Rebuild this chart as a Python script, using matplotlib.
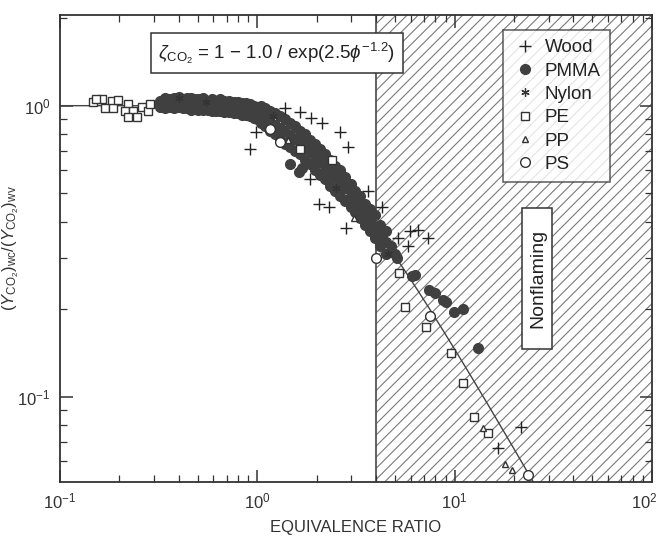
import numpy as np
import matplotlib
matplotlib.use('Agg')
import matplotlib.pyplot as plt
import matplotlib.transforms as mtransforms
from matplotlib.patches import Rectangle

plt.rcParams['font.family'] = ['Liberation Sans', 'DejaVu Sans']
plt.rcParams['mathtext.fontset'] = 'custom'
plt.rcParams['mathtext.rm'] = 'Liberation Sans'
plt.rcParams['mathtext.it'] = 'Liberation Sans:italic'
plt.rcParams['mathtext.bf'] = 'Liberation Sans:bold'
plt.rcParams['hatch.linewidth'] = 0.8
plt.rcParams['hatch.color'] = '#7a7a7a'

# measured points: equivalence ratio vs normalized CO2 yield
wood_phi = [0.92, 0.98, 1.39, 1.65, 1.88, 2.13, 2.64, 2.90, 1.86, 2.05, 2.30,
            2.82, 3.66, 4.30, 5.14, 5.98, 6.50, 7.30, 5.80, 16.7, 21.6]
wood_zeta = [0.71, 0.81, 0.98, 0.95, 0.91, 0.87, 0.81, 0.72, 0.56, 0.46, 0.45,
             0.38, 0.51, 0.45, 0.35, 0.37, 0.375, 0.35, 0.33, 0.067, 0.079]

# flat part of the PMMA band (three rows)
pmma_flat_phi = [0.32, 0.34, 0.36, 0.38, 0.40, 0.42, 0.44, 0.46, 0.48, 0.50, 0.53,
                 0.56, 0.59, 0.62, 0.65, 0.68, 0.72, 0.76, 0.80, 0.84, 0.88, 0.92,
                 0.96, 1.00]
pmma_flat_hi = [1.04, 1.06, 1.05, 1.06, 1.07, 1.05, 1.06, 1.06, 1.05, 1.05, 1.06,
                1.04, 1.05, 1.04, 1.05, 1.04, 1.04, 1.03, 1.03, 1.02, 1.02, 1.01,
                1.00, 0.99]
pmma_flat_mid = [1.01, 1.02, 1.01, 1.03, 1.02, 1.01, 1.02, 1.01, 1.01, 1.02, 1.00,
                 1.01, 1.00, 1.00, 0.99, 0.99, 0.99, 0.98, 0.98, 0.97, 0.96, 0.96,
                 0.95, 0.94]
pmma_flat_lo = [0.99, 0.98, 0.99, 0.98, 0.99, 0.98, 0.98, 0.97, 0.98, 0.97, 0.97,
                0.97, 0.96, 0.96, 0.96, 0.95, 0.95, 0.94, 0.94, 0.93, 0.93, 0.92,
                0.91, 0.90]

# falling part of the PMMA band (upper / middle / lower edge)
pmma_fall_phi = [1.04, 1.10, 1.16, 1.23, 1.31, 1.39, 1.47, 1.56, 1.65, 1.75, 1.86,
                 1.97, 2.09, 2.21, 2.35, 2.49, 2.64, 2.80, 2.97, 3.14, 3.33, 3.53,
                 3.75, 3.97, 4.21, 4.47]
pmma_fall_hi = [1.00, 0.98, 0.96, 0.94, 0.92, 0.90, 0.87, 0.85, 0.82, 0.80, 0.76,
                0.74, 0.71, 0.68, 0.65, 0.62, 0.60, 0.57, 0.54, 0.51, 0.49, 0.46,
                0.44, 0.42, 0.39, 0.37]
pmma_fall_mid = [0.93, 0.90, 0.88, 0.86, 0.84, 0.82, 0.79, 0.77, 0.75, 0.72, 0.70,
                 0.67, 0.64, 0.62, 0.59, 0.57, 0.54, 0.52, 0.49, 0.47, 0.45, 0.42,
                 0.40, 0.38, 0.36, 0.34]
pmma_fall_lo = [0.87, 0.85, 0.82, 0.80, 0.77, 0.74, 0.72, 0.70, 0.68, 0.65, 0.63,
                0.60, 0.58, 0.56, 0.53, 0.51, 0.49, 0.47, 0.45, 0.43, 0.41, 0.39,
                0.37, 0.35, 0.33, 0.31]

# scattered PMMA points off the band and in the nonflaming tail
pmma_extra_phi = [1.47, 1.62, 1.68, 4.75, 5.0, 5.1, 6.1, 6.3, 7.4, 8.0, 8.7, 9.0,
                  9.9, 11.0, 13.2]
pmma_extra_zeta = [0.63, 0.59, 0.61, 0.33, 0.31, 0.30, 0.26, 0.263, 0.233, 0.228,
                   0.215, 0.212, 0.195, 0.20, 0.147]

pmma_phi = (pmma_flat_phi * 3 + pmma_fall_phi * 3 + pmma_extra_phi)
pmma_zeta = (pmma_flat_hi + pmma_flat_mid + pmma_flat_lo
             + pmma_fall_hi + pmma_fall_mid + pmma_fall_lo + pmma_extra_zeta)

nylon_phi = [0.40, 0.55, 1.20, 2.50, 4.60]
nylon_zeta = [1.06, 1.03, 0.92, 0.52, 0.31]

pe_phi = [0.147, 0.163, 0.183, 0.169, 0.185, 0.221, 0.214, 0.234, 0.221, 0.245,
          0.260, 0.279, 0.286, 0.152, 0.197, 1.65, 2.40, 5.2, 5.64, 7.13, 9.55,
          11.0, 12.6, 14.7]
pe_zeta = [1.03, 1.05, 1.04, 0.985, 0.985, 1.01, 0.955, 0.955, 0.915, 0.915,
           0.99, 0.955, 1.01, 1.05, 1.045, 0.71, 0.65, 0.267, 0.204, 0.174, 0.142,
           0.112, 0.085, 0.075]

pp_phi = [1.44, 3.10, 13.9, 18.0, 19.5]
pp_zeta = [0.76, 0.41, 0.078, 0.059, 0.056]

ps_phi = [1.16, 1.30, 4.0, 7.5, 23.7]
ps_zeta = [0.83, 0.75, 0.30, 0.19, 0.054]

# correlation curve and nonflaming limit
phi_fit = np.logspace(-1, np.log10(25), 300)
zeta_fit = 1 - 1.0 / np.exp(2.5 * phi_fit ** -1.2)
phi_nonflaming = 4.0

fig = plt.figure(figsize=(6.62, 5.47), dpi=100)
ax = fig.add_axes([0.0906, 0.1188, 0.894, 0.854])

ax.axvspan(phi_nonflaming, 100, facecolor='white', edgecolor='#7a7a7a',
           hatch='///', linewidth=0, zorder=0)
ax.axvline(phi_nonflaming, color='#555555', lw=1.3, zorder=1)

ax.plot(phi_fit, zeta_fit, color='#444444', lw=1.0, zorder=2)

ax.plot(pmma_phi, pmma_zeta, 'o', ms=7, color='#404040', mec='#404040',
        label='PMMA', zorder=3)
ax.plot(wood_phi, wood_zeta, '+', ms=8, mew=1.0, color='#222222', label='Wood', zorder=4)
ax.plot(nylon_phi, nylon_zeta, marker=(6, 2, 0), ls='none', ms=6, mew=0.9,
        color='#333333', label='Nylon', zorder=4)
ax.plot(pe_phi, pe_zeta, 's', ms=6, mfc='white', mec='#333333', mew=1.0,
        label='PE', zorder=4)
ax.plot(pp_phi, pp_zeta, '^', ms=5, mfc='white', mec='#333333', mew=1.0,
        label='PP', zorder=4)
ax.plot(ps_phi, ps_zeta, 'o', ms=7, mfc='white', mec='#333333', mew=1.0,
        label='PS', zorder=4)

ax.set_xscale('log')
ax.set_yscale('log')
ax.set_xlim(0.1, 100)
ax.set_ylim(0.051, 2.05)

for s in ax.spines.values():
    s.set_linewidth(1.3)
    s.set_color('#333333')
ax.tick_params(which='both', direction='in', top=True, right=True,
               colors='#333333', labelsize=12, pad=7)
ax.tick_params(which='major', length=9, width=1.1)
ax.tick_params(which='minor', length=5, width=0.9)

ax.set_xlabel('EQUIVALENCE RATIO', fontsize=12, color='#333333', labelpad=6)
ax.set_ylabel(r'$(Y_{\rm CO_2})_{\rm wc}/(Y_{\rm CO_2})_{\rm wv}$', fontsize=12,
              color='#333333')
ax.yaxis.set_label_coords(-0.066, 0.5)

# keep the last x tick label inside the figure edge
fig.canvas.draw()
last = ax.get_xticklabels()[-1]
for lbl in ax.get_xticklabels():
    if lbl.get_position()[0] >= 100:
        lbl.set_transform(lbl.get_transform() +
                          mtransforms.ScaledTranslation(-0.08, 0, fig.dpi_scale_trans))

ax.text(0.366, 0.918,
        r'$\zeta_{\rm CO_2}$ = 1 $-$ 1.0 / exp(2.5$\phi^{-1.2}$)',
        transform=ax.transAxes, ha='center', va='center', fontsize=13.5,
        color='#222222',
        bbox=dict(boxstyle='square,pad=0.4', facecolor='white', edgecolor='#333333', lw=1.1))

ax.add_patch(Rectangle((0.781, 0.285), 0.051, 0.302, transform=ax.transAxes,
                       facecolor='white', edgecolor='#333333', lw=1.1, zorder=5))
ax.text(0.807, 0.436, 'Nonflaming', rotation=90, transform=ax.transAxes,
        ha='center', va='center', fontsize=14, color='#222222', zorder=6)

handles, labels = ax.get_legend_handles_labels()
order = ['Wood', 'PMMA', 'Nylon', 'PE', 'PP', 'PS']
hmap = dict(zip(labels, handles))
leg = ax.legend([hmap[k] for k in order], order, loc='upper left',
                bbox_to_anchor=(0.749, 0.968), fontsize=13.5, frameon=True,
                fancybox=False, edgecolor='#333333', handlelength=1.3,
                handletextpad=0.4, labelspacing=0.33, borderpad=0.5,
                borderaxespad=0)
leg.get_frame().set_linewidth(1.1)
for t in leg.get_texts():
    t.set_color('#222222')

fig.savefig('out.png', dpi=100, facecolor='white')
